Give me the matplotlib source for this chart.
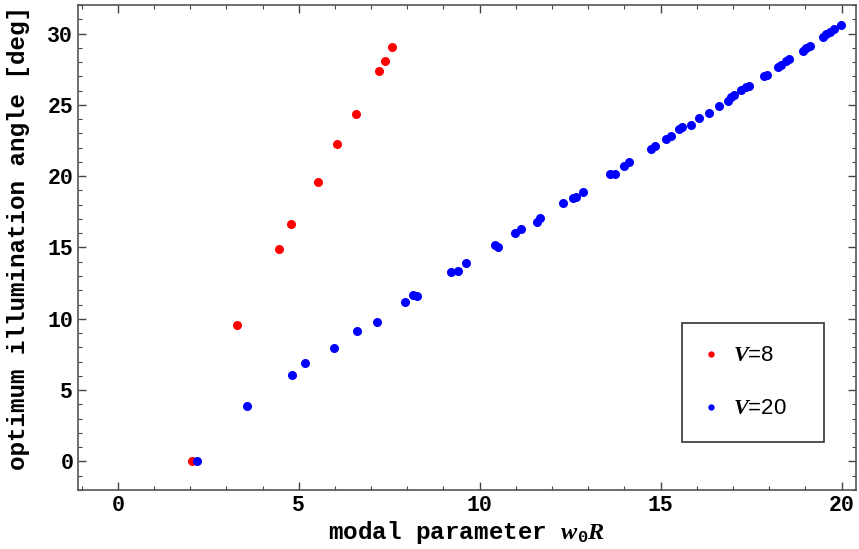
import matplotlib
matplotlib.use("Agg")
import matplotlib.pyplot as plt
from matplotlib.ticker import MultipleLocator

plt.rcParams['mathtext.fontset'] = 'custom'
plt.rcParams['mathtext.it'] = 'Liberation Serif:bold:italic'
plt.rcParams['mathtext.rm'] = 'Liberation Mono:bold'

# V=8
x_v8 = [2.05, 3.3, 4.45, 4.78, 5.53, 6.06, 6.58, 7.22, 7.38, 7.59]
y_v8 = [0.0, 9.6, 14.9, 16.66, 19.62, 22.26, 24.37, 27.35, 28.05, 29.03]

# V=20
x_v20 = [2.2, 3.56, 4.81, 5.17, 5.97, 6.61, 7.15, 7.93, 8.16, 8.27,
         9.22, 9.40, 9.61, 10.43, 10.50, 10.97, 11.15, 11.58, 11.68, 12.30,
         12.58, 12.67, 12.85, 13.59, 13.73, 13.98, 14.12, 14.74, 14.85, 15.16,
         15.30, 15.52, 15.59, 15.85, 16.06, 16.33, 16.61, 16.86, 16.95, 17.04,
         17.23, 17.35, 17.43, 17.87, 17.94, 18.24, 18.33, 18.47, 18.56, 18.93,
         19.02, 19.12, 19.48, 19.57, 19.67, 19.78, 19.99]
y_v20 = [0.0, 3.92, 6.03, 6.92, 7.97, 9.18, 9.81, 11.21, 11.68, 11.58,
         13.27, 13.38, 13.9, 15.2, 15.0, 16.0, 16.3, 16.77, 17.08, 18.1,
         18.48, 18.52, 18.92, 20.16, 20.16, 20.74, 20.97, 21.91, 22.14, 22.61,
         22.85, 23.31, 23.43, 23.6, 24.09, 24.43, 24.95, 25.3, 25.53, 25.7,
         26.04, 26.23, 26.35, 27.05, 27.12, 27.63, 27.82, 28.05, 28.19, 28.8,
         28.96, 29.13, 29.78, 29.97, 30.13, 30.32, 30.62]

fig = plt.figure(figsize=(8.59, 5.49), dpi=100)
ax = fig.add_axes([0.0908, 0.1075, 0.9057, 0.8834])

ax.plot(x_v8, y_v8, 'o', color='#ff0000', markersize=6.5, markeredgewidth=0, label='$V$=8')
ax.plot(x_v20, y_v20, 'o', color='#0000ff', markersize=6.5, markeredgewidth=0, label='$V$=20')

ax.set_xlim(-1.1, 20.4)
ax.set_ylim(-2.0, 32.0)
ax.xaxis.set_major_locator(MultipleLocator(5))
ax.xaxis.set_minor_locator(MultipleLocator(1))
ax.yaxis.set_major_locator(MultipleLocator(5))
ax.yaxis.set_minor_locator(MultipleLocator(1))
ax.tick_params(which='both', direction='in', top=True, right=True, color='#444444')
ax.tick_params(which='major', length=6, width=1)
ax.tick_params(which='minor', length=3, width=0.8)
ax.tick_params(which='both', labeltop=False, labelright=False)

for lab in ax.get_xticklabels() + ax.get_yticklabels():
    lab.set_fontfamily('Liberation Mono')
    lab.set_fontweight('bold')
    lab.set_fontsize(15.5)

for sp in ax.spines.values():
    sp.set_color('#555555')
    sp.set_linewidth(1.2)

ax.set_xlabel('modal parameter $w_0R$', fontfamily='Liberation Mono',
              fontweight='bold', fontsize=17.5, labelpad=2)
ax.set_ylabel('optimum illumination angle [deg]', fontfamily='Liberation Mono',
              fontweight='bold', fontsize=17.5)
ax.yaxis.set_label_coords(-0.062, 0.52)

leg = ax.legend(loc='upper left', bbox_to_anchor=(0.776, 0.099, 0.183, 0.245),
                mode='expand', borderaxespad=0, fancybox=False, framealpha=1,
                edgecolor='#333333', markerscale=0.7, handlelength=0.6,
                handletextpad=0.7, labelspacing=1.44, borderpad=1.0,
                prop={'family': 'Liberation Sans', 'size': 16})
leg.get_frame().set_linewidth(1.2)

fig.savefig('out.png', dpi=100)
